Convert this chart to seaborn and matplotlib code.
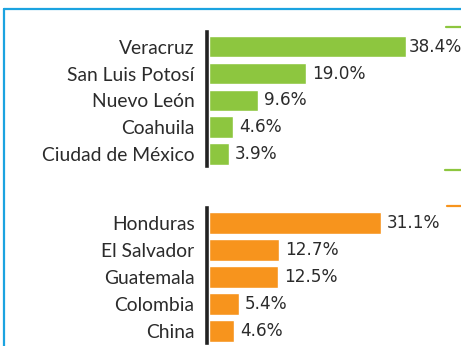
import matplotlib
matplotlib.use("Agg")
import matplotlib.pyplot as plt
from matplotlib.lines import Line2D
import seaborn as sns
import pandas as pd

# Top five origins within Mexico (share, %)
mx_states = ["Veracruz", "San Luis Potosí", "Nuevo León", "Coahuila", "Ciudad de México"]
mx_shares = [38.4, 19.0, 9.6, 4.6, 3.9]

# Top five foreign origins (share, %)
foreign_countries = ["Honduras", "El Salvador", "Guatemala", "Colombia", "China"]
foreign_shares = [31.1, 12.7, 12.5, 5.4, 4.6]

GREEN = "#8DC63F"
ORANGE = "#F7941D"
BLUE = "#1BA3E0"
TEXT = "#2b2b2b"

sns.set_theme(style="white")
plt.rcParams["font.family"] = ["Lato", "DejaVu Sans"]

W, H = 461, 346
fig = plt.figure(figsize=(W / 100, H / 100), dpi=100)


def px_box(x0, y0, x1, y1):
    return [x0 / W, 1 - y1 / H, (x1 - x0) / W, (y1 - y0) / H]


def panel(rect, names, values, color, xmax):
    ax = fig.add_axes(rect)
    df = pd.DataFrame({"name": names, "value": values})
    sns.barplot(data=df, x="value", y="name", orient="h", color=color,
                width=0.8, saturation=1, ax=ax)
    ax.set_xlim(0, xmax)
    ax.set_ylim(len(names) - 0.55, -0.55)
    ax.set_xlabel("")
    ax.set_ylabel("")
    ax.set_xticks([])
    ax.patch.set_alpha(0)
    for s in ["top", "right", "bottom"]:
        ax.spines[s].set_visible(False)
    ax.spines["left"].set_color("#222222")
    ax.spines["left"].set_linewidth(2.6)
    ax.spines["left"].set_position(("outward", 1.4))
    ax.tick_params(axis="y", length=0, pad=9, labelsize=13.9, labelcolor=TEXT)
    # Value labels: keep the longest bar's label tight so it fits the frame
    longest = max(values)
    labels = [f"{v:.1f}%" for v in values]
    for cont in ax.containers:
        ax.bar_label(cont, labels=[l if v != longest else "" for l, v in zip(labels, values)],
                     padding=4.5, fontsize=12.2, color=TEXT, family="DejaVu Sans")
        pad_long = 2.5 if longest / xmax > 0.75 else 4.5
        ax.bar_label(cont, labels=[l if v == longest else "" for l, v in zip(labels, values)],
                     padding=pad_long, fontsize=12.2, color=TEXT, family="DejaVu Sans")
    return ax


panel(px_box(209, 32, 461, 166), mx_states, mx_shares, GREEN, 252 / 5.12)
panel(px_box(209, 208, 461, 343), foreign_countries, foreign_shares, ORANGE, 252 / 5.52)

# Frame lines along the top and left edge
fig.add_artist(Line2D([4 / W, 1], [1 - 9 / H, 1 - 9 / H], color=BLUE, lw=1.6,
                      transform=fig.transFigure))
fig.add_artist(Line2D([4 / W, 4 / W], [1 - 9 / H, 0], color=BLUE, lw=1.6,
                      transform=fig.transFigure))

# Short accent rules at the right edge
for y, x0, c in [(26.7, 446, GREEN), (170, 445, GREEN), (205.7, 447, ORANGE)]:
    fig.add_artist(Line2D([x0 / W, 1], [1 - y / H, 1 - y / H], color=c, lw=1.6,
                          transform=fig.transFigure))

fig.savefig("out.png", dpi=100)
